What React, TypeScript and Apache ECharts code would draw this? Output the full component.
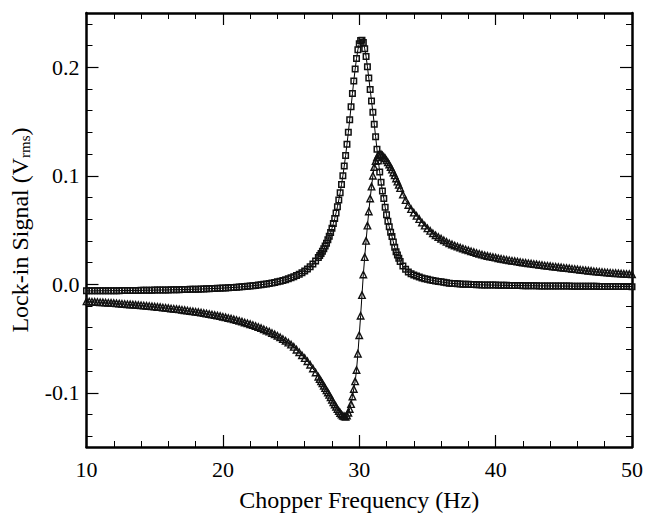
import { useEffect, useRef } from "react";
import * as echarts from "echarts";

// ---- sweep grid (Hz) ----
function grid(start: number, end: number, step: number): number[] {
  const n = Math.round((end - start) / step) + 1;
  return Array.from({ length: n }, (_, i) => +(start + i * step).toFixed(2));
}
const FREQ_LOW = grid(10, 27, 0.2);
const FREQ_PEAK = grid(27.1, 33.0, 0.1);
const FREQ_HIGH = grid(33.2, 50, 0.2);

// ---- in-phase signal (squares), V rms ----
const X_LOW = [
  -0.0061, -0.0061, -0.0061, -0.0061, -0.006, -0.006, -0.006, -0.006, -0.0059, -0.0059,
  -0.0059, -0.0059, -0.0059, -0.0058, -0.0058, -0.0058, -0.0057, -0.0057, -0.0057, -0.0057,
  -0.0056, -0.0056, -0.0055, -0.0055, -0.0055, -0.0054, -0.0054, -0.0053, -0.0053, -0.0053,
  -0.0052, -0.0051, -0.0051, -0.005, -0.005, -0.0049, -0.0049, -0.0048, -0.0047, -0.0046,
  -0.0046, -0.0045, -0.0044, -0.0043, -0.0042, -0.0041, -0.004, -0.0039, -0.0038, -0.0037,
  -0.0035, -0.0034, -0.0032, -0.0031, -0.0029, -0.0028, -0.0026, -0.0024, -0.0021, -0.0019,
  -0.0017, -0.0014, -0.0011, -0.0008, -0.0005, -0.0001, 0.0003, 0.0007, 0.0012, 0.0017,
  0.0022, 0.0028, 0.0035, 0.0042, 0.005, 0.0059, 0.0069, 0.008, 0.0093, 0.0107,
  0.0123, 0.0141, 0.0162, 0.0186, 0.0214, 0.0246,
];
const X_PEAK = [
  0.0264, 0.0283, 0.0304, 0.0327, 0.0352, 0.0379, 0.0409, 0.0442, 0.0477, 0.0516,
  0.0559, 0.0606, 0.0657, 0.0714, 0.0776, 0.0844, 0.0919, 0.1001, 0.109, 0.1187,
  0.129, 0.14, 0.1517, 0.1636, 0.1757, 0.1873, 0.1984, 0.2081, 0.2161, 0.2217,
  0.2246, 0.225, 0.2227, 0.217, 0.21, 0.2005, 0.19, 0.1795, 0.169, 0.1585,
  0.1475, 0.136, 0.1245, 0.1135, 0.1035, 0.094, 0.086, 0.079, 0.071, 0.064,
  0.058, 0.053, 0.048, 0.044, 0.039, 0.034, 0.03, 0.027, 0.024, 0.021,
];
const X_HIGH = [
  0.0168, 0.0138, 0.0113, 0.0097, 0.0085, 0.0075, 0.0066, 0.0058, 0.0051, 0.0045,
  0.004, 0.0035, 0.003, 0.0026, 0.0022, 0.0018, 0.0014, 0.001, 0.0008, 0.0006,
  0.0004, 0.0002, 0.0001, 0.0, -0.0001, -0.0002, -0.0003, -0.0004, -0.0005, -0.0006,
  -0.0006, -0.0007, -0.0007, -0.0008, -0.0008, -0.0009, -0.0009, -0.001, -0.001, -0.0011,
  -0.0011, -0.0012, -0.0012, -0.0012, -0.0013, -0.0013, -0.0013, -0.0014, -0.0014, -0.0014,
  -0.0015, -0.0015, -0.0015, -0.0015, -0.0016, -0.0016, -0.0016, -0.0016, -0.0017, -0.0017,
  -0.0017, -0.0017, -0.0018, -0.0018, -0.0018, -0.0018, -0.0018, -0.0019, -0.0019, -0.0019,
  -0.0019, -0.0019, -0.002, -0.002, -0.002, -0.002, -0.002, -0.002, -0.0021, -0.0021,
  -0.0021, -0.0021, -0.0021, -0.0021, -0.0022,
];

// ---- quadrature signal (triangles), V rms ----
const Y_LOW = [
  -0.0158, -0.0159, -0.0161, -0.0162, -0.0164, -0.0166, -0.0167, -0.0169, -0.0171, -0.0172,
  -0.0174, -0.0176, -0.0178, -0.018, -0.0182, -0.0184, -0.0186, -0.0188, -0.019, -0.0192,
  -0.0194, -0.0196, -0.0199, -0.0201, -0.0204, -0.0206, -0.0209, -0.0211, -0.0214, -0.0217,
  -0.022, -0.0223, -0.0226, -0.0229, -0.0232, -0.0235, -0.0239, -0.0242, -0.0246, -0.025,
  -0.0253, -0.0257, -0.0261, -0.0266, -0.027, -0.0275, -0.0279, -0.0284, -0.0289, -0.0294,
  -0.03, -0.0305, -0.0311, -0.0317, -0.0324, -0.033, -0.0337, -0.0344, -0.0352, -0.036,
  -0.0368, -0.0376, -0.0385, -0.0394, -0.0404, -0.0415, -0.0426, -0.0437, -0.0449, -0.0462,
  -0.0475, -0.0489, -0.0505, -0.0521, -0.0538, -0.0556, -0.0577, -0.0603, -0.0627, -0.0654,
  -0.0681, -0.071, -0.0742, -0.0777, -0.0813, -0.0852,
];
const Y_PEAK = [
  -0.0874, -0.0894, -0.0914, -0.0936, -0.0957, -0.0978, -0.0998, -0.102, -0.1042, -0.1064,
  -0.1087, -0.1108, -0.1129, -0.115, -0.1168, -0.1186, -0.12, -0.1212, -0.1218, -0.1222,
  -0.121, -0.1185, -0.115, -0.1105, -0.1035, -0.0965, -0.0895, -0.079, -0.064, -0.047,
  -0.029, -0.01, 0.009, 0.025, 0.04, 0.054, 0.067, 0.079, 0.09, 0.1,
  0.108, 0.1135, 0.117, 0.119, 0.12, 0.1197, 0.1188, 0.1175, 0.116, 0.1143,
  0.1124, 0.1103, 0.108, 0.1056, 0.103, 0.1003, 0.0975, 0.0946, 0.0916, 0.0886,
];
const Y_HIGH = [
  0.0826, 0.0775, 0.073, 0.0692, 0.066, 0.063, 0.06, 0.0568, 0.054, 0.0515,
  0.0492, 0.047, 0.0452, 0.0436, 0.042, 0.0405, 0.0391, 0.0378, 0.0367, 0.0357,
  0.0347, 0.0338, 0.0329, 0.032, 0.0312, 0.0304, 0.0296, 0.0288, 0.028, 0.0273,
  0.0267, 0.0261, 0.0255, 0.025, 0.0245, 0.024, 0.0235, 0.023, 0.0225, 0.0221,
  0.0217, 0.0213, 0.0209, 0.0205, 0.0201, 0.0197, 0.0194, 0.019, 0.0187, 0.0183,
  0.018, 0.0177, 0.0173, 0.017, 0.0167, 0.0164, 0.0161, 0.0158, 0.0155, 0.0152,
  0.0149, 0.0146, 0.0143, 0.014, 0.0137, 0.0134, 0.0131, 0.0128, 0.0125, 0.0123,
  0.012, 0.0118, 0.0115, 0.0113, 0.0111, 0.0108, 0.0106, 0.0104, 0.0102, 0.01,
  0.0098, 0.0096, 0.0095, 0.0093, 0.0092,
];

// ---- axis ticks ----
const Y_MAJOR = [-0.1, 0, 0.1, 0.2];
const Y_MINOR = [-0.14, -0.12, -0.08, -0.06, -0.04, -0.02, 0.02, 0.04, 0.06, 0.08, 0.12, 0.14, 0.16, 0.18, 0.22, 0.24];

function pairs(f: number[], v: number[]): number[][] {
  const n = Math.min(f.length, v.length);
  const out: number[][] = [];
  for (let i = 0; i < n; i++) out.push([f[i], v[i]]);
  return out;
}

const FONT = "Liberation Serif";

export default function App() {
  const ref = useRef<HTMLDivElement>(null);
  useEffect(() => {
    if (!ref.current) return;
    const chart = echarts.init(ref.current, undefined, { renderer: "svg" });
    const inPhase = [...pairs(FREQ_LOW, X_LOW), ...pairs(FREQ_PEAK, X_PEAK), ...pairs(FREQ_HIGH, X_HIGH)];
    const quad = [...pairs(FREQ_LOW, Y_LOW), ...pairs(FREQ_PEAK, Y_PEAK), ...pairs(FREQ_HIGH, Y_HIGH)];

    const axisLine = { show: true, onZero: false, lineStyle: { color: "#000", width: 2.5 } };
    const tickStyle = { fontFamily: FONT, fontSize: 22, color: "#000" };
    const nameStyle = { fontFamily: FONT, fontSize: 24, color: "#000" };
    const xCommon = {
      type: "value" as const,
      min: 10,
      max: 50,
      interval: 10,
      axisLine,
      axisTick: { show: true, inside: true, length: 12, lineStyle: { color: "#000", width: 1.2 } },
      minorTick: { show: true, splitNumber: 5, length: 6, lineStyle: { color: "#000", width: 1 } },
      splitLine: { show: false },
      minorSplitLine: { show: false },
    };
    const yCommon = { type: "value" as const, min: -0.15, max: 0.25, splitLine: { show: false } };

    chart.setOption({
      animation: false,
      backgroundColor: "#fff",
      grid: { left: 80, right: 30, top: 13, bottom: 59, containLabel: false },
      xAxis: [
        {
          ...xCommon,
          position: "bottom",
          axisLabel: { ...tickStyle, margin: 11 },
          name: "Chopper Frequency (Hz)",
          nameLocation: "middle",
          nameGap: 41,
          nameTextStyle: { ...nameStyle },
        },
        { ...xCommon, position: "top", axisLabel: { show: false } },
      ],
      yAxis: [
        {
          ...yCommon,
          position: "left",
          axisLine,
          axisTick: { show: true, inside: true, length: 12, customValues: Y_MAJOR, lineStyle: { color: "#000", width: 1.2 } },
          axisLabel: { ...tickStyle, margin: 7, customValues: Y_MAJOR, formatter: (v: number) => v.toFixed(1) },
          name: "{n|Lock-in Signal (V}{s|rms}{n|)}",
          nameLocation: "middle",
          nameGap: 54,
          nameTextStyle: {
            ...nameStyle,
            rich: {
              n: { fontFamily: FONT, fontSize: 24, color: "#000" },
              s: { fontFamily: FONT, fontSize: 15, color: "#000", padding: [10, 0, 0, 0] },
            },
          },
        },
        {
          ...yCommon,
          position: "left",
          axisLine: { show: false },
          axisTick: { show: true, inside: true, length: 6, customValues: Y_MINOR, lineStyle: { color: "#000", width: 1 } },
          axisLabel: { show: false },
        },
        {
          ...yCommon,
          position: "right",
          axisLine,
          axisTick: { show: true, inside: true, length: 12, customValues: Y_MAJOR, lineStyle: { color: "#000", width: 1.2 } },
          axisLabel: { show: false },
        },
        {
          ...yCommon,
          position: "right",
          axisLine: { show: false },
          axisTick: { show: true, inside: true, length: 6, customValues: Y_MINOR, lineStyle: { color: "#000", width: 1 } },
          axisLabel: { show: false },
        },
      ],
      series: [
        {
          name: "In-phase",
          type: "line",
          data: inPhase,
          xAxisIndex: 0,
          yAxisIndex: 0,
          symbol: "rect",
          symbolSize: 5.5,
          showSymbol: true,
          showAllSymbol: true,
          itemStyle: { color: "rgba(255,255,255,0)", borderColor: "#111", borderWidth: 1.5 },
          lineStyle: { color: "#000", width: 1 },
          emphasis: { disabled: true },
        },
        {
          name: "Quadrature",
          type: "line",
          data: quad,
          xAxisIndex: 0,
          yAxisIndex: 0,
          symbol: "triangle",
          symbolSize: 6.5,
          showSymbol: true,
          showAllSymbol: true,
          itemStyle: { color: "rgba(255,255,255,0)", borderColor: "#111", borderWidth: 1.4 },
          lineStyle: { color: "#000", width: 1 },
          emphasis: { disabled: true },
        },
      ],
    });
    return () => chart.dispose();
  }, []);
  return <div ref={ref} style={{ position: "fixed", left: 0, top: 0, width: 662, height: 517, background: "#fff" }} />;
}
